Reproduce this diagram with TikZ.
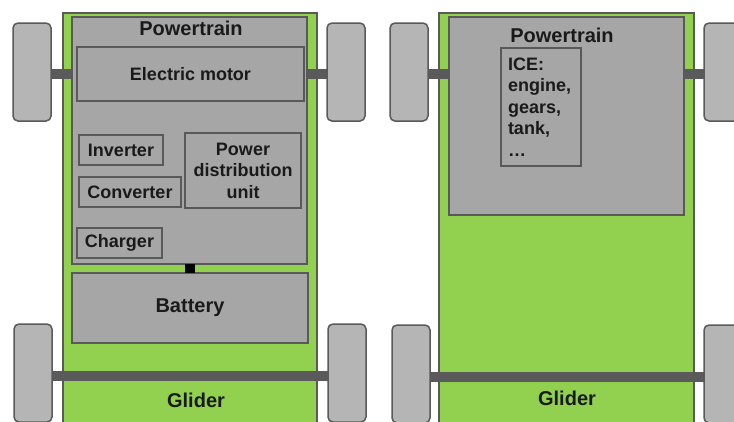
\documentclass[tikz,border=0pt]{standalone}
\usepackage{fontspec}
\setmainfont{Liberation Sans}
\definecolor{glider}{HTML}{92D050}
\definecolor{boxgray}{HTML}{A6A6A6}
\definecolor{edge}{HTML}{595959}
\definecolor{wheelgray}{HTML}{B5B5B5}
\definecolor{axlegray}{HTML}{5A5A5A}
\definecolor{txt}{HTML}{1A1A1A}
\pgfdeclarelayer{bodylayer}
\pgfdeclarelayer{axlelayer}
\pgfsetlayers{bodylayer,axlelayer,main}
\begin{document}
\begin{tikzpicture}[x=1pt,y=-1pt,
  every node/.style={inner sep=0pt, outer sep=0pt, text=txt, font=\bfseries\fontsize{18}{21.6}\selectfont},
  body/.style={draw=edge, line width=1.5pt, fill=glider, anchor=north west},
  ptbox/.style={draw=edge, line width=1.5pt, fill=boxgray, anchor=north west},
  part/.style={draw=edge, line width=1.2pt, fill=boxgray, anchor=north west, align=center},
  wheel/.style={draw=edge, line width=1.5pt, fill=wheelgray, rounded corners=5pt, anchor=north west, minimum width=38pt, minimum height=98pt},
  axle/.style={draw=axlegray, line width=10pt},
  big/.style={font=\bfseries\fontsize{20}{24}\selectfont},
  link/.style={draw=black, line width=10pt}]
\useasboundingbox (0,0) rectangle (734,421);

% ---------- car bodies (glider) ----------
\begin{pgfonlayer}{bodylayer}
\node[body, minimum width=254pt, minimum height=430pt] (bodyL) at (63,13) {};
\node[body, minimum width=255pt, minimum height=430pt] (bodyR) at (439,13) {};
\end{pgfonlayer}

% ---------- left car (electric) ----------
\node[wheel] (wLTL) at (13,23) {};
\node[wheel] (wLTR) at (327,23) {};
\node[wheel] (wLBL) at (14,324) {};
\node[wheel] (wLBR) at (328,324) {};

\node[ptbox, minimum width=235pt, minimum height=247pt] (ptL) at (72,17) {};
\node[big] (ptLlab) at (191,28) {Powertrain};
\node[part, minimum width=227pt, minimum height=54pt] (motor) at (77,47) {Electric motor};
\node[part, minimum width=84pt, minimum height=30pt] (inv) at (79,135) {Inverter};
\node[part, minimum width=102pt, minimum height=30pt] (conv) at (79,177) {Converter};
\node[part, minimum width=116pt, minimum height=75pt] (pdu) at (185,133) {Power\\distribution\\unit};
\node[part, minimum width=85pt, minimum height=30pt] (chg) at (77,228) {Charger};
\node[ptbox, big, minimum width=236pt, minimum height=70pt] (bat) at (72,273) {Battery};
\coordinate (linkx) at (190,0);
\draw[link] (ptL.south -| linkx) -- (bat.north -| linkx);
\node[big] (gliderL) at (196,400) {Glider};

\coordinate (frontY) at (0,74);
\coordinate (rearYL) at (0,375.5);
\begin{pgfonlayer}{axlelayer}
\draw[axle] (wLTL.east |- frontY) -- (ptL.west |- frontY);
\draw[axle] (ptL.east |- frontY) -- (wLTR.west |- frontY);
\draw[axle] (wLBL.east |- rearYL) -- (wLBR.west |- rearYL);
\end{pgfonlayer}

% ---------- right car (ICE) ----------
\node[wheel] (wRTL) at (390,23) {};
\node[wheel] (wRTR) at (704,23) {};
\node[wheel] (wRBL) at (392,325) {};
\node[wheel] (wRBR) at (704,325) {};

\node[ptbox, minimum width=235pt, minimum height=198pt] (ptR) at (449,17) {};
\node[big] (ptRlab) at (562,35) {Powertrain};
\node[part, align=left, text width=66pt, inner xsep=7pt, minimum height=118pt] (ice) at (501,48) {ICE:\\engine,\\gears,\\tank,\\…};
\node[big] (gliderR) at (567,398) {Glider};

\coordinate (rearYR) at (0,376.5);
\begin{pgfonlayer}{axlelayer}
\draw[axle] (wRTL.east |- frontY) -- (ptR.west |- frontY);
\draw[axle] (ptR.east |- frontY) -- (wRTR.west |- frontY);
\draw[axle] (wRBL.east |- rearYR) -- (wRBR.west |- rearYR);
\end{pgfonlayer}
\end{tikzpicture}
\end{document}
